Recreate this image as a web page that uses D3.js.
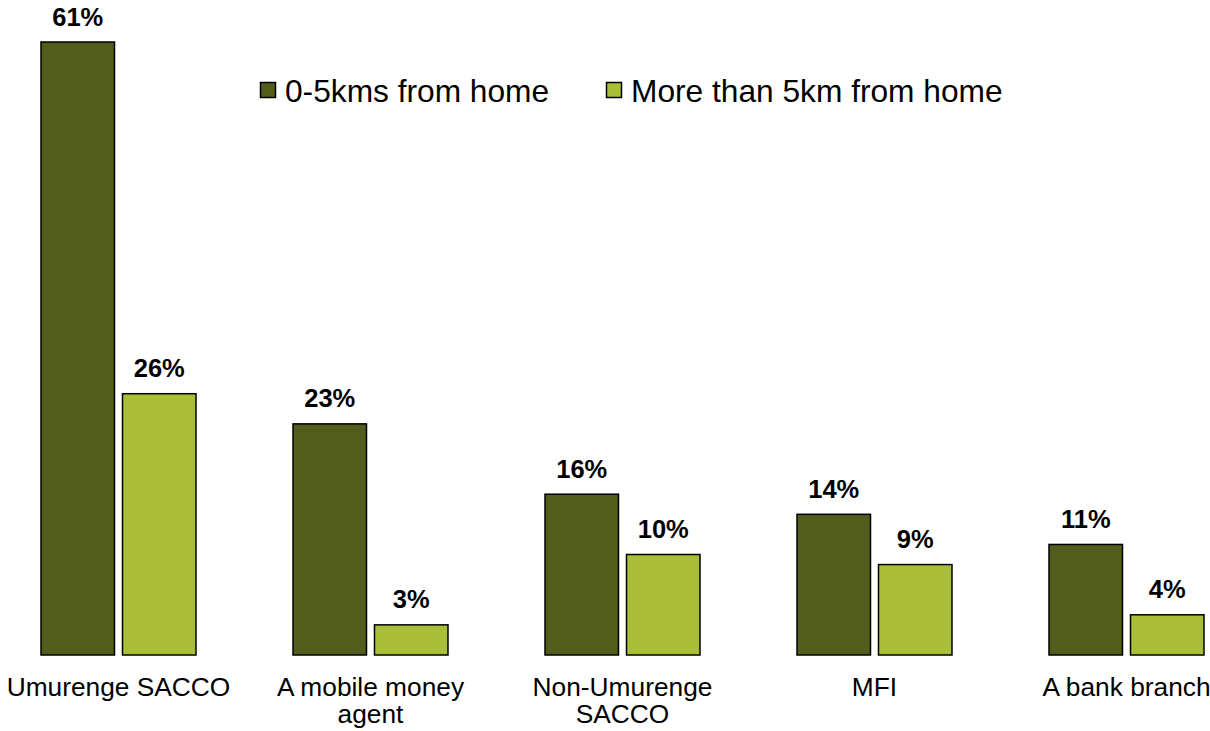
<!DOCTYPE html>
<html>
<head>
<meta charset="utf-8">
<script src="https://cdn.jsdelivr.net/npm/d3@7"></script>
<style>
  html, body { margin: 0; padding: 0; background: #fff; overflow: hidden; }
  svg { display: block; font-family: "Liberation Sans", Arial, sans-serif; }
</style>
</head>
<body>
<svg id="chart" width="1210" height="731"></svg>
<script>
// Where people access financial services, by distance from home
const categories = ["Umurenge SACCO", "A mobile money agent", "Non-Umurenge SACCO", "MFI", "A bank branch"];
const seriesNames = ["0-5kms from home", "More than 5km from home"];
const near = [61, 23, 16, 14, 11];
const far = [26, 3, 10, 9, 4];
const seriesColors = ["#535D1B", "#ABBE38"];

const svg = d3.select("#chart");
const baseline = 655;

const x = d3.scaleBand()
  .domain(categories)
  .range([-7.5, 1252.5])
  .paddingInner(0.385)
  .paddingOuter(0.1925);

const xs = d3.scaleBand()
  .domain(seriesNames)
  .range([0, x.bandwidth()])
  .paddingInner(0.098)
  .paddingOuter(0);

const y = d3.scaleLinear().domain([0, 61]).range([baseline, 42]);

const rows = categories.map((c, i) => ({ cat: c, values: [near[i], far[i]] }));

const groups = svg.append("g").selectAll("g")
  .data(rows)
  .join("g")
  .attr("transform", d => `translate(${x(d.cat)},0)`);

const bars = groups.selectAll("g.bar")
  .data(d => d.values.map((v, k) => ({ series: seriesNames[k], k, v })))
  .join("g").attr("class", "bar");

bars.append("rect")
  .attr("x", d => xs(d.series))
  .attr("y", d => y(d.v))
  .attr("width", xs.bandwidth())
  .attr("height", d => baseline - y(d.v))
  .attr("fill", d => seriesColors[d.k])
  .attr("stroke", "#000")
  .attr("stroke-width", 1.5);

bars.append("text")
  .attr("x", d => xs(d.series) + xs.bandwidth() / 2)
  .attr("y", d => y(d.v) - 16.5)
  .attr("text-anchor", "middle")
  .attr("font-size", 25.5)
  .attr("font-weight", "bold")
  .attr("fill", "#000")
  .text(d => d.v + "%");

// Category labels, wrapped onto two lines when too wide for a group
const maxLabelWidth = 240;
const labels = svg.append("g").selectAll("text")
  .data(categories)
  .join("text")
  .attr("text-anchor", "middle")
  .attr("font-size", 26.3)
  .attr("fill", "#000")
  .attr("transform", d => `translate(${x(d) + x.bandwidth() / 2},696)`);

labels.each(function (d) {
  const t = d3.select(this);
  const words = d.split(" ");
  let lines = [];
  let line = [];
  const probe = t.append("tspan");
  words.forEach(w => {
    const trial = line.concat([w]).join(" ");
    probe.text(trial);
    if (probe.node().getComputedTextLength() > maxLabelWidth && line.length) {
      lines.push(line.join(" "));
      line = [w];
    } else {
      line.push(w);
    }
  });
  lines.push(line.join(" "));
  probe.remove();
  lines.forEach((l, i) => {
    t.append("tspan").attr("x", 0).attr("y", i * 27).text(l);
  });
});

// Legend
const legend = svg.append("g").attr("transform", "translate(260,82)");
const legendOffsets = [0, 346];
const items = legend.selectAll("g")
  .data(seriesNames)
  .join("g")
  .attr("transform", (d, i) => `translate(${legendOffsets[i]},0)`);
items.append("rect")
  .attr("x", 0.5).attr("y", 0.5)
  .attr("width", 15).attr("height", 15)
  .attr("fill", (d, i) => seriesColors[i])
  .attr("stroke", "#000")
  .attr("stroke-width", 1.5);
items.append("text")
  .attr("x", 25)
  .attr("y", 19.5)
  .attr("font-size", 31.7)
  .attr("fill", "#000")
  .text(d => d);
</script>
</body>
</html>
